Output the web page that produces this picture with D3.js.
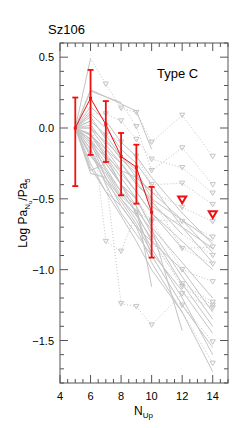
<!DOCTYPE html>
<html>
<head>
<meta charset="utf-8">
<script src="https://cdn.jsdelivr.net/npm/d3@7"></script>
<style>
body { margin: 0; background: #fff; }
text { font-family: "Liberation Sans", Arial, sans-serif; }
</style>
</head>
<body>
<div id="chart"></div>
<script>
// red mean curve
var redN = [5, 6, 7, 8, 9, 10];
var redVal = [0.0, 0.21, 0.025, -0.2, -0.277, -0.595];
var redHi = [0.215, 0.41, 0.19, -0.035, -0.118, -0.416];
var redLo = [-0.41, -0.19, -0.24, -0.475, -0.534, -0.915];
var redLimN = [12, 14];
var redLimVal = [-0.506, -0.61];

// gray individual sources: [N, value, upperLimit]
var grayLines = [
  [[5,0],[6,0.49],[7,0.31,1],[8,0.14,1],[9,0.11,1],[10,-0.1,1],[12,0.09,1],[14,-0.2,1]],
  [[5,0],[6,0.26],[7,0.22],[8,0.18],[9,0.01,1],[10,-0.3,1],[12,-0.14,1],[14,-0.4,1]],
  [[5,0],[6,0.27],[7,0.22],[8,0.17],[9,0.12],[10,-0.15]],
  [[5,0],[6,0.1],[7,0.1,1],[8,0.05,1],[9,-0.08,1],[10,-0.22,1],[12,-0.28,1],[14,-0.46,1]],
  [[5,0],[6,0.05],[7,-0.05,1],[8,-0.1,1],[9,-0.2,1],[10,-0.4,1],[12,-0.39,1],[14,-0.54,1]],
  [[5,0],[6,0.12],[7,-0.8,1],[8,-0.87,1],[9,-0.6,1],[10,-0.65,1],[12,-0.66,1],[14,-0.77,1]],
  [[5,0],[6,-0.1],[7,-0.35],[8,-1.24,1],[9,-1.26,1],[10,-1.39,1],[12,-1.17,1],[14,-1.27,1]],
  [[5,0],[6,-0.05],[7,-0.2],[8,-0.3],[9,-0.35],[10,-0.45],[12,-0.56,1],[14,-0.66,1]],
  [[5,0],[6,0.0],[7,-0.15],[8,-0.25],[9,-0.4],[10,-0.5],[12,-0.85,1],[14,-0.84,1]],
  [[5,0],[6,-0.12],[7,-0.28],[8,-0.45],[9,-0.6],[10,-0.8],[12,-1.1,1],[14,-1.23,1]],
  [[5,0],[6,-0.2],[7,-0.32],[8,-0.5],[9,-0.62],[10,-0.78],[12,-1.12,1],[14,-1.25,1]],
  [[5,0],[6,-0.15],[7,-0.4],[8,-0.6],[9,-0.75],[10,-0.9],[12,-1.25,1],[14,-1.51,1]],
  [[5,0],[6,-0.28],[7,-0.45],[8,-0.62],[9,-0.8],[10,-1.0],[12,-1.3],[14,-1.66,1]],
  [[5,0],[6,-0.08],[7,-0.22],[8,-0.4],[9,-0.5],[10,-0.66,1],[12,-1.0,1],[14,-1.085,1]],
  [[5,0],[6,0.02],[7,-0.12],[8,-0.25],[9,-0.38],[10,-0.52],[12,-0.75],[14,-0.9,1]],
  [[5,0],[6,-0.04],[7,-0.18],[8,-0.32],[9,-0.45],[10,-0.6],[12,-0.85],[14,-0.96,1]],
  [[5,0],[6,0.15],[7,0.05],[8,-0.1],[9,-0.2],[10,-0.35],[12,-0.6],[14,-0.82]],
  [[5,0],[6,-0.05],[7,-0.15],[8,-0.3],[9,-0.45],[10,-0.6],[12,-0.8],[14,-1.0]],
  [[5,0],[6,-0.1],[7,-0.25],[8,-0.4],[9,-0.5],[10,-0.7],[12,-0.95],[14,-1.2]],
  [[5,0],[6,-0.2],[7,-0.3],[8,-0.45],[9,-0.55],[10,-0.75],[12,-1.1],[14,-1.4]],
  [[5,0],[6,-0.32],[7,-0.35],[8,-0.5],[9,-0.65],[10,-0.85],[12,-1.2],[14,-1.6]],
  [[5,0],[6,-0.15],[7,-0.35],[8,-0.55],[9,-0.7],[10,-0.95],[12,-1.3],[14,-1.72]],
  [[5,0],[6,0.0],[7,-0.1],[8,-0.2],[9,-0.35],[10,-0.45],[12,-0.65],[14,-0.8]],
  [[5,0],[6,-0.05],[7,-0.2],[8,-0.35],[9,-0.5],[10,-0.7],[12,-1.43]],
  [[5,0],[6,-0.1],[7,-0.2],[8,-0.4],[9,-0.55],[10,-1.12]],
  [[5,0],[6,0.05],[7,-0.05],[8,-0.2],[9,-0.3],[10,-0.5],[12,-0.65],[14,-0.88]],
  [[5,0],[6,-0.25],[7,-0.45],[8,-0.55],[9,-0.7],[10,-0.8],[12,-1.0],[14,-1.3]],
  [[5,0],[6,0.1],[7,0.0],[8,-0.15],[9,-0.25],[10,-0.4],[12,-0.7],[14,-0.95]],
  [[5,0],[6,-0.3],[7,-0.25],[8,-0.4],[9,-0.6],[10,-0.9],[12,-1.25],[14,-1.55]],
  [[5,0],[6,-0.18],[7,-0.38],[8,-0.52],[9,-0.68],[10,-0.88],[12,-1.15],[14,-1.45]],
  [[5,0],[6,-0.08],[7,-0.3],[8,-0.48],[9,-0.58],[10,-0.72],[12,-1.05],[14,-1.35]],
  [[5,0],[6,0.08],[7,-0.08],[8,-0.22],[9,-0.32],[10,-0.55],[12,-0.7],[14,-0.85]]
];

var xTicks = [4, 6, 8, 10, 12, 14];
var yTicks = [0.5, 0.0, -0.5, -1.0, -1.5];

var W = 240, H = 428;
var svg = d3.select("#chart").append("svg").attr("width", W).attr("height", H);

var x = d3.scaleLinear().domain([4, 15]).range([60, 228]);
var y = d3.scaleLinear().domain([-1.8, 0.6]).range([383, 43]);

var gray = "#c4c4c4", axisCol = "#555";

// gray lines, segment by segment
var segs = [];
grayLines.forEach(function(s) {
  for (var i = 0; i < s.length - 1; i++) {
    segs.push({a: s[i], b: s[i + 1], dot: !!(s[i][2] || s[i + 1][2])});
  }
});
svg.append("g").selectAll("line").data(segs).enter().append("line")
  .attr("x1", function(d) { return x(d.a[0]); })
  .attr("y1", function(d) { return y(d.a[1]); })
  .attr("x2", function(d) { return x(d.b[0]); })
  .attr("y2", function(d) { return y(d.b[1]); })
  .attr("stroke", gray)
  .attr("stroke-width", 1)
  .attr("stroke-dasharray", function(d) { return d.dot ? "1,2" : null; });

// gray upper limit triangles
var lims = [];
grayLines.forEach(function(s) { s.forEach(function(p) { if (p[2]) lims.push(p); }); });
var tri = function(cx, cy, r) {
  return "M" + (cx - r) + "," + (cy - r * 0.8) + "L" + (cx + r) + "," + (cy - r * 0.8) + "L" + cx + "," + (cy + r * 0.9) + "Z";
};
svg.append("g").selectAll("path").data(lims).enter().append("path")
  .attr("d", function(d) { return tri(x(d[0]), y(d[1]), 2.6); })
  .attr("fill", "none").attr("stroke", gray).attr("stroke-width", 1);

// red curve
var red = "#f01010";
svg.append("path").datum(redN.map(function(n, i) { return [n, redVal[i]]; }))
  .attr("fill", "none").attr("stroke", red).attr("stroke-width", 1)
  .attr("d", d3.line().x(function(d) { return x(d[0]); }).y(function(d) { return y(d[1]); }));

var eb = svg.append("g").attr("stroke", red).attr("stroke-width", 1.8);
redN.forEach(function(n, i) {
  var cx = x(n);
  eb.append("line").attr("x1", cx).attr("x2", cx).attr("y1", y(redHi[i])).attr("y2", y(redLo[i]));
  eb.append("line").attr("x1", cx - 3).attr("x2", cx + 3).attr("y1", y(redHi[i])).attr("y2", y(redHi[i]));
  eb.append("line").attr("x1", cx - 3).attr("x2", cx + 3).attr("y1", y(redLo[i])).attr("y2", y(redLo[i]));
});
svg.append("g").selectAll("rect").data(redN).enter().append("rect")
  .attr("x", function(d) { return x(d) - 1.5; })
  .attr("y", function(d, i) { return y(redVal[i]) - 1.5; })
  .attr("width", 3).attr("height", 3).attr("fill", red);

svg.append("g").selectAll("path").data(redLimN).enter().append("path")
  .attr("d", function(d, i) { return tri(x(d), y(redLimVal[i]), 4); })
  .attr("fill", "none").attr("stroke", red).attr("stroke-width", 2);

// frame and ticks
svg.append("rect").attr("x", 60).attr("y", 43).attr("width", 168).attr("height", 340)
  .attr("fill", "none").attr("stroke", axisCol).attr("stroke-width", 1);

var tk = svg.append("g").attr("stroke", axisCol).attr("stroke-width", 1);
d3.range(4, 15.01, 0.5).forEach(function(v) {
  var major = Math.abs(v % 2) < 1e-6;
  var len = major ? 8 : 4;
  tk.append("line").attr("x1", x(v)).attr("x2", x(v)).attr("y1", 383).attr("y2", 383 - len);
  tk.append("line").attr("x1", x(v)).attr("x2", x(v)).attr("y1", 43).attr("y2", 43 + len);
});
d3.range(-18, 7, 1).forEach(function(k) {
  var v = k / 10;
  var major = k % 5 === 0;
  var len = major ? 8 : 4;
  tk.append("line").attr("x1", 60).attr("x2", 60 + len).attr("y1", y(v)).attr("y2", y(v));
  tk.append("line").attr("x1", 228).attr("x2", 228 - len).attr("y1", y(v)).attr("y2", y(v));
});

svg.append("g").selectAll("text").data(xTicks).enter().append("text")
  .attr("x", function(d) { return x(d); }).attr("y", 400)
  .attr("text-anchor", "middle").attr("font-size", 11).text(function(d) { return d; });

svg.append("g").selectAll("text").data(yTicks).enter().append("text")
  .attr("x", 54).attr("y", function(d) { return y(d) + 4; })
  .attr("text-anchor", "end").attr("font-size", 11)
  .text(function(d) { return d3.format(".1f")(d).replace("-", "\u2212"); });

svg.append("text").attr("x", 48).attr("y", 34).attr("font-size", 13).text("Sz106");
svg.append("text").attr("x", 157).attr("y", 78).attr("font-size", 13).text("Type C");

// axis titles
var xl = svg.append("text").attr("x", 134).attr("y", 415).attr("font-size", 12);
xl.append("tspan").text("N");
xl.append("tspan").attr("font-size", 8).attr("dy", 3).text("Up");

var yl = svg.append("text").attr("transform", "translate(27,213) rotate(-90)")
  .attr("text-anchor", "middle").attr("font-size", 12);
yl.append("tspan").text("Log Pa");
yl.append("tspan").attr("font-size", 8).attr("dy", 3).text("N");
yl.append("tspan").attr("font-size", 6).attr("dy", 2).text("u");
yl.append("tspan").attr("font-size", 12).attr("dy", -5).text("/Pa");
yl.append("tspan").attr("font-size", 8).attr("dy", 3).text("5");
</script>
</body>
</html>
